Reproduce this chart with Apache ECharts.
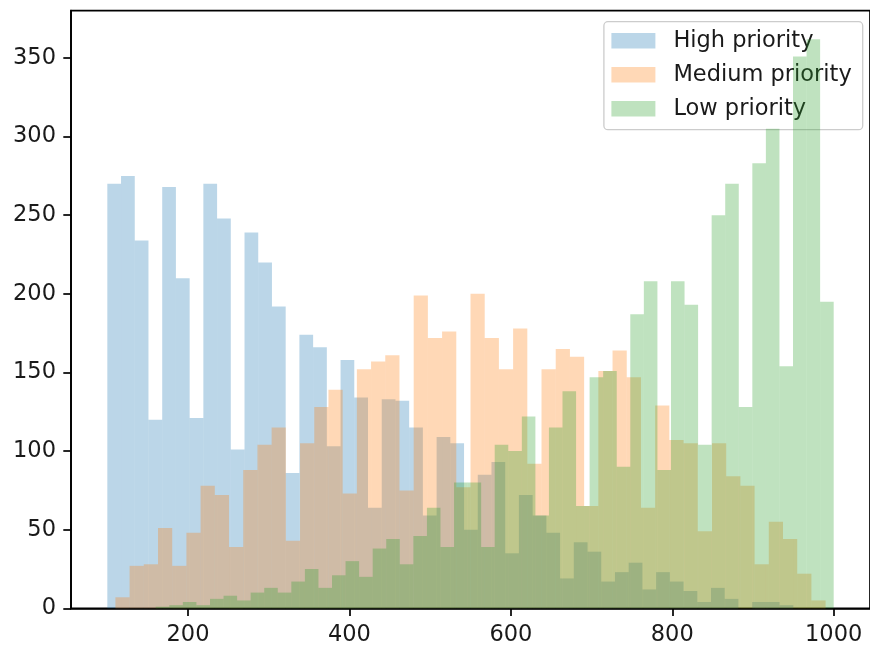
<!DOCTYPE html>
<html>
<head>
<meta charset="utf-8">
<script src="https://cdn.jsdelivr.net/npm/echarts@6/dist/echarts.min.js"></script>
<style>
html, body { margin: 0; padding: 0; background: #ffffff; }
#chart { width: 870px; height: 650px; }
</style>
</head>
<body>
<div id="chart"></div>
<script>
// ---- data ----
const seriesNames = ['High priority', 'Medium priority', 'Low priority'];
const seriesColors = ['#1f77b4', '#ff7f0e', '#2ca02c'];

// histogram bins: first edge and bin width (x units), 50 bins each
const highStart = 100, highBinWidth = 17;
const mediumStart = 110, mediumBinWidth = 17.6;
const lowStart = 160, lowBinWidth = 16.8;

const highCounts = [270, 275, 234, 120, 268, 210, 121, 270, 248, 101,
                    239, 220, 192, 86, 174, 166, 103, 158, 134, 64,
                    133, 132, 115, 59, 109, 105, 50, 85, 93, 35,
                    72, 59, 48, 19, 42, 36, 17, 23, 29, 12,
                    23, 17, 11, 4, 13, 6, 0, 4, 4, 2];
const mediumCounts = [7, 27, 28, 51, 27, 48, 78, 72, 39, 88,
                      104, 115, 43, 105, 128, 139, 73, 152, 157, 161,
                      75, 199, 172, 176, 77, 200, 172, 152, 178, 92,
                      152, 165, 160, 65, 151, 164, 147, 64, 129, 107,
                      105, 49, 105, 84, 78, 28, 55, 44, 22, 5];
const lowCounts = [1, 2, 4, 2, 6, 8, 5, 10, 13, 10,
                   17, 25, 13, 21, 30, 20, 38, 44, 28, 46,
                   64, 39, 80, 80, 39, 104, 100, 122, 59, 115,
                   138, 65, 147, 151, 90, 187, 208, 88, 208, 193,
                   104, 250, 270, 128, 283, 305, 154, 351, 362, 195];

const xTickValues = [200, 400, 600, 800, 1000];
const yTickValues = [0, 50, 100, 150, 200, 250, 300, 350];

// ---- build ----
function toBins(start, width, counts) {
  return counts.map((c, i) => [start + i * width, start + (i + 1) * width, c]);
}
const binsList = [
  toBins(highStart, highBinWidth, highCounts),
  toBins(mediumStart, mediumBinWidth, mediumCounts),
  toBins(lowStart, lowBinWidth, lowCounts)
];

// matplotlib-like auto limits (5% margins)
const dataMinX = Math.min(highStart, mediumStart, lowStart);
const dataMaxX = Math.max(highStart + 50 * highBinWidth, mediumStart + 50 * mediumBinWidth, lowStart + 50 * lowBinWidth);
const spanX = dataMaxX - dataMinX;
const xMin = dataMinX - 0.05 * spanX;
const xMax = dataMaxX + 0.05 * spanX;
const yMax = 1.05 * Math.max(...highCounts, ...mediumCounts, ...lowCounts);

function hexToRgba(hex, a) {
  const n = parseInt(hex.slice(1), 16);
  return 'rgba(' + ((n >> 16) & 255) + ',' + ((n >> 8) & 255) + ',' + (n & 255) + ',' + a + ')';
}

const FONT = 'DejaVu Sans';
const FS = 22.5;
const plainNumber = v => String(Math.round(v));

const series = binsList.map((bins, si) => ({
  type: 'custom',
  name: seriesNames[si],
  z: 2 + si,
  encode: { x: [0, 1], y: 2 },
  data: bins,
  renderItem: function (params, api) {
    const x0 = api.value(0), x1 = api.value(1), v = api.value(2);
    if (!(v > 0)) return null;
    const pTop = api.coord([x0, v]);
    const pBot = api.coord([x1, 0]);
    return {
      type: 'rect',
      shape: { x: pTop[0], y: pTop[1], width: pBot[0] - pTop[0], height: pBot[1] - pTop[1] },
      style: { fill: hexToRgba(seriesColors[si], 0.3) }
    };
  }
}));

const chart = echarts.init(document.getElementById('chart'), null, { renderer: 'canvas' });
chart.setOption({
  animation: false,
  backgroundColor: '#ffffff',
  textStyle: { fontFamily: FONT },
  grid: {
    left: 71, right: -2, top: 10.7, bottom: 41.7,
    show: true, borderColor: '#000000', borderWidth: 1.7, backgroundColor: 'transparent'
  },
  xAxis: {
    type: 'value',
    min: xMin, max: xMax,
    splitLine: { show: false },
    axisLine: { show: true, onZero: false, lineStyle: { color: '#000000', width: 1.7 } },
    axisTick: { show: true, inside: false, length: 7.7, lineStyle: { color: '#000000', width: 1.7 }, customValues: xTickValues },
    axisLabel: { show: true, margin: 15, color: '#1a1a1a', fontFamily: FONT, fontSize: FS, customValues: xTickValues, formatter: plainNumber },
    minorTick: { show: false }
  },
  yAxis: {
    type: 'value',
    min: 0, max: yMax,
    splitLine: { show: false },
    axisLine: { show: true, onZero: false, lineStyle: { color: '#000000', width: 1.7 } },
    axisTick: { show: true, inside: false, length: 7.7, lineStyle: { color: '#000000', width: 1.7 }, customValues: yTickValues },
    axisLabel: { show: true, margin: 15, color: '#1a1a1a', fontFamily: FONT, fontSize: FS, customValues: yTickValues, formatter: plainNumber }
  },
  legend: {
    show: true,
    orient: 'vertical',
    right: 7.3,
    top: 21.7,
    align: 'left',
    icon: 'rect',
    itemWidth: 44,
    itemHeight: 15.6,
    itemGap: 10,
    padding: [7, 11, 9, 7.5],
    backgroundColor: 'rgba(255,255,255,0.8)',
    borderColor: '#cccccc',
    borderWidth: 1.3,
    borderRadius: 4,
    textStyle: { fontFamily: FONT, fontSize: FS, color: '#1a1a1a', lineHeight: 24, padding: [0, 0, 0, 13] },
    data: seriesNames.map((n, i) => ({ name: n, itemStyle: { color: hexToRgba(seriesColors[i], 0.3) } }))
  },
  series: series
});
</script>
</body>
</html>
